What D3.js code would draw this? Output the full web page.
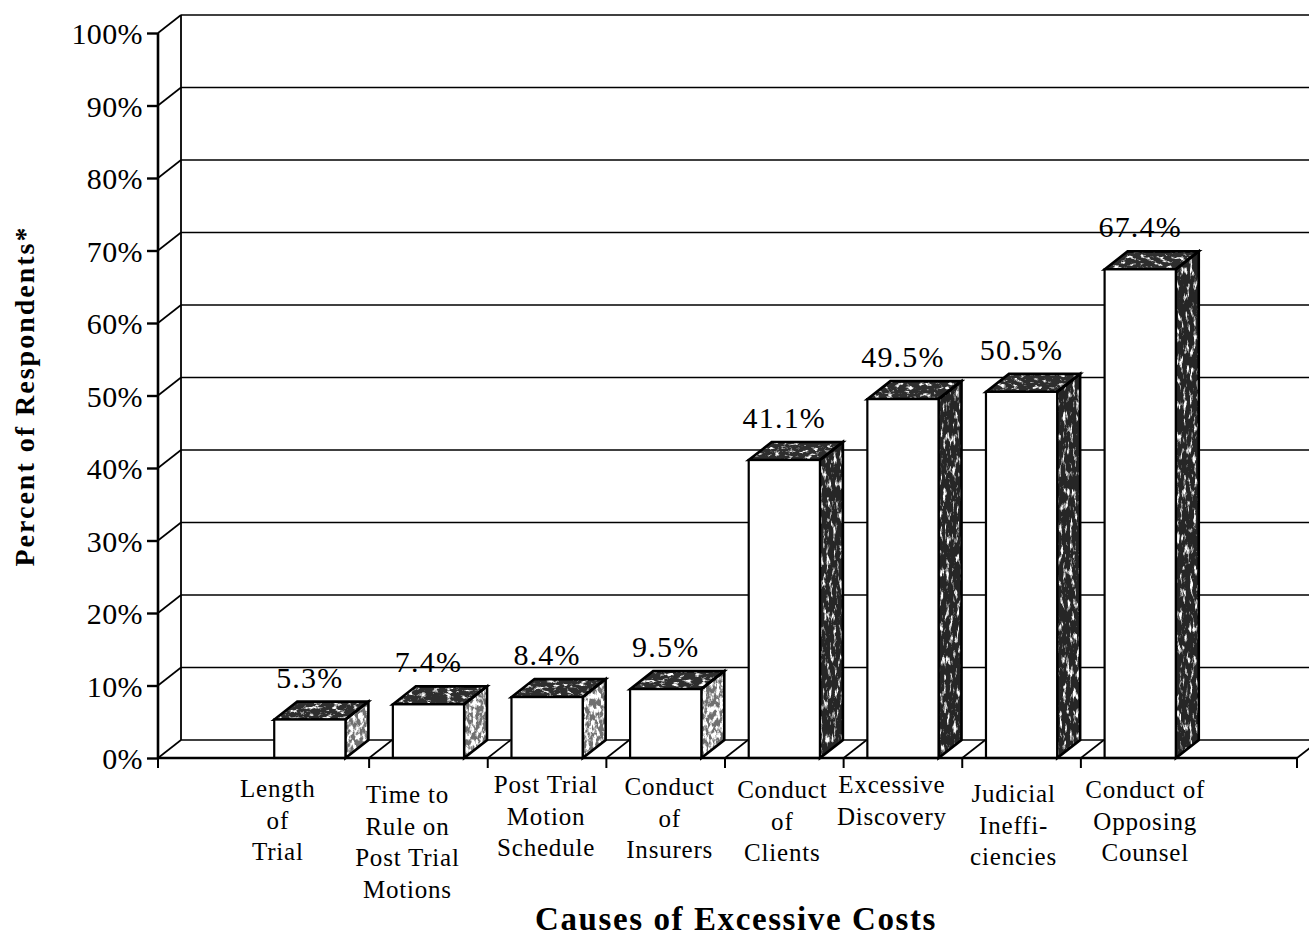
<!DOCTYPE html>
<html>
<head>
<meta charset="utf-8">
<script src="https://cdn.jsdelivr.net/npm/d3@7"></script>
<style>
  html, body { margin: 0; padding: 0; background: #fff; }
  svg { display: block; }
  text { font-family: "Liberation Serif", "Times New Roman", serif; fill: #000; }
</style>
</head>
<body>
<svg id="chart" width="1309" height="940"></svg>
<script>
// Survey results: share of respondents naming each cause of excessive costs
const categories = [
  "Length\nof\nTrial",
  "Time to\nRule on\nPost Trial\nMotions",
  "Post Trial\nMotion\nSchedule",
  "Conduct\nof\nInsurers",
  "Conduct\nof\nClients",
  "Excessive\nDiscovery",
  "Judicial\nIneffi-\nciencies",
  "Conduct of\nOpposing\nCounsel"
];
const values = [5.3, 7.4, 8.4, 9.5, 41.1, 49.5, 50.5, 67.4];
const yTicks = [0, 10, 20, 30, 40, 50, 60, 70, 80, 90, 100];
const yTickLabels = yTicks.map(t => t + "%");
const valueLabels = values.map(v => v.toFixed(1) + "%");
const xTitle = "Causes of Excessive Costs";
const yTitle = "Percent of Respondents*";

// Layout
const floorLeft = 158, floorRight = 1297;
const depthX = 23, depthY = -18;           // oblique offset of the back wall
const labelShift = [-32, -21, -1, 4, -2, -11, -8, 5];
const labelBaseline = [797, 803, 793, 795, 798, 793, 802, 798];

const svg = d3.select("#chart");
const y = d3.scaleLinear().domain([0, 100]).range([758, 33]);
const x = d3.scaleBand().domain(categories).range([250.5, 1199.5])
  .paddingInner(0.4).paddingOuter(0.2);
const step = x.step();
const bounds = d3.range(1, categories.length).map(i => x.range()[0] + i * step);

// Speckled textures for the shaded faces
const defs = svg.append("defs");
function speckle(id, slope, offset, freq, seed) {
  const f = defs.append("filter").attr("id", id)
    .attr("color-interpolation-filters", "sRGB")
    .attr("x", 0).attr("y", 0).attr("width", 1).attr("height", 1);
  f.append("feTurbulence").attr("type", "fractalNoise")
    .attr("baseFrequency", freq).attr("numOctaves", 4).attr("seed", seed).attr("result", "n");
  f.append("feColorMatrix").attr("in", "n").attr("type", "matrix")
    .attr("values", `0 0 0 0 1  0 0 0 0 1  0 0 0 0 1  ${slope} 0 0 0 ${offset}`).attr("result", "s");
  f.append("feComposite").attr("in", "s").attr("in2", "SourceAlpha").attr("operator", "in");
}
speckle("speckDark", 5, -2.75, "0.3 0.09", 5);
speckle("speckLight", 5, -2.1, "0.3 0.15", 11);
speckle("speckTop", 5, -2.7, "0.15 0.3", 3);

// Back wall gridlines
const grid = svg.append("g").attr("stroke", "#000").attr("fill", "none");
grid.selectAll("line.h").data(yTicks).join("line")
  .attr("x1", floorLeft + depthX).attr("x2", 1330)
  .attr("y1", d => y(d) + depthY).attr("y2", d => y(d) + depthY)
  .attr("stroke-width", 1.6);
// Left wall edge lines
grid.selectAll("line.d").data(yTicks).join("line")
  .attr("x1", floorLeft).attr("y1", d => y(d))
  .attr("x2", floorLeft + depthX).attr("y2", d => y(d) + depthY)
  .attr("stroke-width", 1.6);
grid.append("line")
  .attr("x1", floorLeft + depthX).attr("x2", floorLeft + depthX)
  .attr("y1", y(100) + depthY).attr("y2", y(0) + depthY)
  .attr("stroke-width", 1.8);

// Floor
const floor = svg.append("g").attr("stroke", "#000").attr("fill", "none");
floor.append("path")
  .attr("d", `M${floorRight},${y(0)} L${floorRight + depthX},${y(0) + depthY}`)
  .attr("stroke-width", 1.8);
floor.selectAll("line.b").data(bounds).join("line")
  .attr("x1", d => d).attr("y1", y(0))
  .attr("x2", d => d + depthX).attr("y2", y(0) + depthY)
  .attr("stroke-width", 1.6);

// Bars
const bars = svg.append("g").selectAll("g").data(values).join("g");
bars.each(function (v, i) {
  const g = d3.select(this);
  const x0 = x(categories[i]), x1 = x0 + x.bandwidth();
  const yt = y(v), yb = y(0);
  const top = [[x0, yt], [x1, yt], [x1 + depthX, yt + depthY], [x0 + depthX, yt + depthY]];
  const side = [[x1, yt], [x1 + depthX, yt + depthY], [x1 + depthX, yb + depthY], [x1, yb]];
  const poly = pts => "M" + pts.map(p => p.join(",")).join("L") + "Z";
  const tall = v > 20;
  g.append("path").attr("d", poly(side)).attr("fill", tall ? "#262626" : "#707070");
  g.append("path").attr("d", poly(side)).attr("fill", "#000")
    .attr("filter", tall ? "url(#speckDark)" : "url(#speckLight)");
  g.append("path").attr("d", poly(top)).attr("fill", "#2e2e2e");
  g.append("path").attr("d", poly(top)).attr("fill", "#000").attr("filter", "url(#speckTop)");
  g.append("path").attr("d", poly(top)).attr("fill", "none").attr("stroke", "#000").attr("stroke-width", 2.6);
  g.append("path").attr("d", poly(side)).attr("fill", "none").attr("stroke", "#000").attr("stroke-width", 2.6);
  g.append("rect").attr("x", x0).attr("y", yt).attr("width", x1 - x0).attr("height", yb - yt)
    .attr("fill", "#fff").attr("stroke", "#000").attr("stroke-width", 2.2);
});

// Front floor edge and category ticks
svg.append("line").attr("x1", floorLeft).attr("x2", floorRight)
  .attr("y1", y(0)).attr("y2", y(0)).attr("stroke", "#000").attr("stroke-width", 2.6);
svg.append("g").selectAll("line").data([floorLeft, ...bounds, floorRight]).join("line")
  .attr("x1", d => d).attr("x2", d => d)
  .attr("y1", y(0)).attr("y2", y(0) + 10)
  .attr("stroke", "#000").attr("stroke-width", 2);

// Value axis
const yAxis = svg.append("g").attr("transform", `translate(${floorLeft},0)`)
  .call(d3.axisLeft(y).tickValues(yTicks).tickFormat((d, i) => yTickLabels[i])
    .tickSize(11).tickPadding(4));
yAxis.select(".domain").attr("stroke-width", 2.6).attr("d", `M0,${y(100)}V${y(0)}`);
yAxis.selectAll(".tick line").attr("stroke-width", 2.4);
yAxis.selectAll(".tick text")
  .style("font-family", '"Liberation Serif", serif')
  .style("font-size", "30px").style("letter-spacing", "0.4px")
  .attr("dy", "0.36em");

// Value labels above each bar
svg.append("g").selectAll("text").data(values).join("text")
  .attr("x", (d, i) => x(categories[i]) + x.bandwidth() / 2)
  .attr("y", d => y(d) + depthY - 14)
  .attr("text-anchor", "middle")
  .style("font-size", "30px").style("letter-spacing", "1.2px")
  .text((d, i) => valueLabels[i]);

// Category labels
const catLabels = svg.append("g").selectAll("text").data(categories).join("text")
  .attr("text-anchor", "middle")
  .style("font-size", "25px").style("letter-spacing", "0.8px");
catLabels.each(function (c, i) {
  const cx = x(c) + x.bandwidth() / 2 + labelShift[i];
  d3.select(this).selectAll("tspan").data(c.split("\n")).join("tspan")
    .attr("x", cx)
    .attr("y", (d, j) => labelBaseline[i] + j * 31.5)
    .text(d => d);
});

// Axis titles
svg.append("text").attr("x", 736).attr("y", 930).attr("text-anchor", "middle")
  .style("font-size", "33px").style("font-weight", "bold").style("letter-spacing", "1.6px")
  .text(xTitle);
svg.append("text").attr("transform", "translate(34,396) rotate(-90)")
  .attr("text-anchor", "middle")
  .style("font-size", "28px").style("font-weight", "bold").style("letter-spacing", "2px")
  .text(yTitle);
</script>
</body>
</html>
